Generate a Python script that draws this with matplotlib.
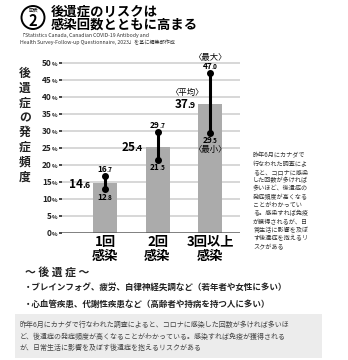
import matplotlib
matplotlib.use('Agg')
import matplotlib.pyplot as plt
from matplotlib.patches import Ellipse, Rectangle

plt.rcParams['font.family'] = ['Noto Sans CJK JP', 'DejaVu Sans']

# data
categories = ['1回\n感染', '2回\n感染', '3回以上\n感染']
avg = [14.6, 25.4, 37.9]
low = [12.8, 21.5, 29.5]
high = [16.7, 29.7, 47.0]
yticks = list(range(0, 51, 5))

ylabel = '後遺症の発症頻度'
title_lines = ['後遺症のリスクは', '感染回数とともに高まる']
source_lines = ['「Statistics Canada, Canadian COVID-19 Antibody and',
                'Health Survey-Follow-up Questionnaire, 2023」を基に編集部作成']
side_lines = ['昨年6月にカナダで', '行なわれた調査によ', 'ると、コロナに感染',
              'した回数が多ければ', '多いほど、後遺症の', '発症頻度が高くなる',
              'ことがわかってい', 'る。感染すれば免疫', 'が獲得されるが、日',
              '常生活に影響を及ぼ', 'す後遺症を抱えるリ', 'スクがある']
symptoms = ['・ブレインフォグ、疲労、自律神経失調など（若年者や女性に多い）',
            '・心血管疾患、代謝性疾患など（高齢者や持病を持つ人に多い）']
note_lines = ['昨年6月にカナダで行なわれた調査によると、コロナに感染した回数が多ければ多いほ',
              'ど、後遺症の発症頻度が高くなることがわかっている。感染すれば免疫が獲得される',
              'が、日常生活に影響を及ぼす後遺症を抱えるリスクがある']

W, H, DPI = 348, 360, 100
fig = plt.figure(figsize=(W / DPI, H / DPI), dpi=DPI)
renderer = fig.canvas.get_renderer()


def px(x, y):
    # pixel position (from top-left) -> figure fraction
    return x / W, 1 - y / H


def two_size(ax, x, y, big, small, size, ratio=0.75, ha='center', dx=0, dy=0,
             coords='data', weight='bold', color='black', kern=0.1):
    """number with a smaller trailing part, vertically centred on (x, y)"""
    t1 = ax.annotate(big, (x, y), xycoords=coords, textcoords='offset points',
                     xytext=(0, 0), fontsize=size, fontweight=weight,
                     color=color, ha='left', va='baseline', annotation_clip=False)
    t2 = ax.annotate(small, (x, y), xycoords=coords, textcoords='offset points',
                     xytext=(0, 0), fontsize=size * ratio, fontweight=weight,
                     color=color, ha='left', va='baseline', annotation_clip=False)
    w1 = t1.get_window_extent(renderer).width * 72 / DPI - kern * size
    w2 = t2.get_window_extent(renderer).width * 72 / DPI
    total = w1 + w2
    start = {'left': 0, 'center': -total / 2, 'right': -total}[ha]
    base = dy - 0.36 * size
    t1.xyann = (start + dx, base)
    t2.xyann = (start + dx + w1, base)


def split_num(v):
    a, b = ('%.1f' % v).split('.')
    return a, '.' + b


# ---- chart area ----
left, right = 62, 240
y0, per = 233, 3.4
ytop = 51
ax = fig.add_axes([left / W, 1 - y0 / H, (right - left) / W, ytop * per / H])
ax.set_ylim(0, ytop)
ax.set_xlim(-0.819, 2.571)
for s in ax.spines.values():
    s.set_visible(False)

for t in yticks[1:]:
    ax.axhline(t, color='#d4d4d4', lw=1.3, zorder=0)
ax.axhline(0, color='#5a5a5a', lw=1.8, zorder=3)

x = list(range(len(categories)))
bw = 0.457
ax.bar(x, avg, width=bw, color='#ababab', zorder=2)

ax.vlines(x, low, high, color='black', lw=2.2, zorder=4)
ax.scatter(x, low, s=16, color='black', zorder=5)
ax.scatter(x, high, s=16, color='black', zorder=5)

ax.set_yticks(yticks)
ax.tick_params(axis='y', length=2, width=1.4, color='#444', labelleft=False)
for t in yticks:
    two_size(ax, -0.028, t, str(t), '%', 6, ratio=0.7, ha='right',
             coords=ax.get_yaxis_transform(), color='#222', kern=0.05)

ax.set_xticks(x)
ax.set_xticklabels(categories, fontsize=9.5, fontweight='bold', linespacing=1.0)
ax.tick_params(axis='x', length=0, pad=1.5)

for i in x:
    a, b = split_num(avg[i])
    two_size(ax, i - bw / 2, avg[i], a, b, 8.5, ha='right', dx=-2)
    a, b = split_num(high[i])
    two_size(ax, i, high[i], a, b, 6, dy=5.2)
    a, b = split_num(low[i])
    two_size(ax, i, low[i], a, b, 6, dy=-5.2)

i = len(x) - 1
ax.annotate('〈平均〉', (i - bw / 2, avg[i]), textcoords='offset points',
            xytext=(-8, 8.5), ha='center', va='center', fontsize=6)
ax.annotate('〈最大〉', (i, high[i]), textcoords='offset points',
            xytext=(0, 11.5), ha='center', va='center', fontsize=6)
ax.annotate('〈最小〉', (i, low[i]), textcoords='offset points',
            xytext=(0, -12), ha='center', va='center', fontsize=6)

# vertical y-axis label
for k, ch in enumerate(ylabel):
    fig.text(*px(25, 73 + k * 14.9), ch, fontsize=8.5, fontweight='bold',
             ha='center', va='center', color='#222')

# ---- title block ----
fig.patches.append(Ellipse(px(33, 17.5), 23 / W, 23 / H, transform=fig.transFigure,
                           fill=False, lw=1.4, ec='black'))
fig.text(*px(33, 10.5), '図表', fontsize=3.5, ha='center', va='center')
fig.text(*px(33, 20.5), '2', fontsize=10.5, fontweight='bold', ha='center', va='center')
fig.text(*px(51, 11.5), title_lines[0], fontsize=9.6, fontweight='bold', va='center')
fig.text(*px(51, 25), title_lines[1], fontsize=9.6, fontweight='bold', va='center')
for k, line in enumerate(source_lines):
    fig.text(*px(20, 36 + k * 6), line, fontsize=3.7, va='center', color='#333')

# ---- side note ----
for k, line in enumerate(side_lines):
    fig.text(*px(253, 155.5 + k * 8.3), line, fontsize=4.4, va='center', color='#333')

# ---- symptoms ----
fig.text(*px(25, 272), '〜 後 遺 症 〜', fontsize=7.8, fontweight='bold', va='center', color='#222')
for k, line in enumerate(symptoms):
    fig.text(*px(24, 288 + k * 16), line, fontsize=6.15, fontweight='bold',
             va='center', color='#222')

# ---- bottom note box ----
fig.patches.append(Rectangle(px(15, 358), 307 / W, 44 / H, transform=fig.transFigure,
                             fc='#ececec', ec='none', zorder=0))
for k, line in enumerate(note_lines):
    fig.text(*px(20, 325 + k * 11.7), line, fontsize=5.0, va='center', color='#444')

fig.savefig('out.png', dpi=DPI)
